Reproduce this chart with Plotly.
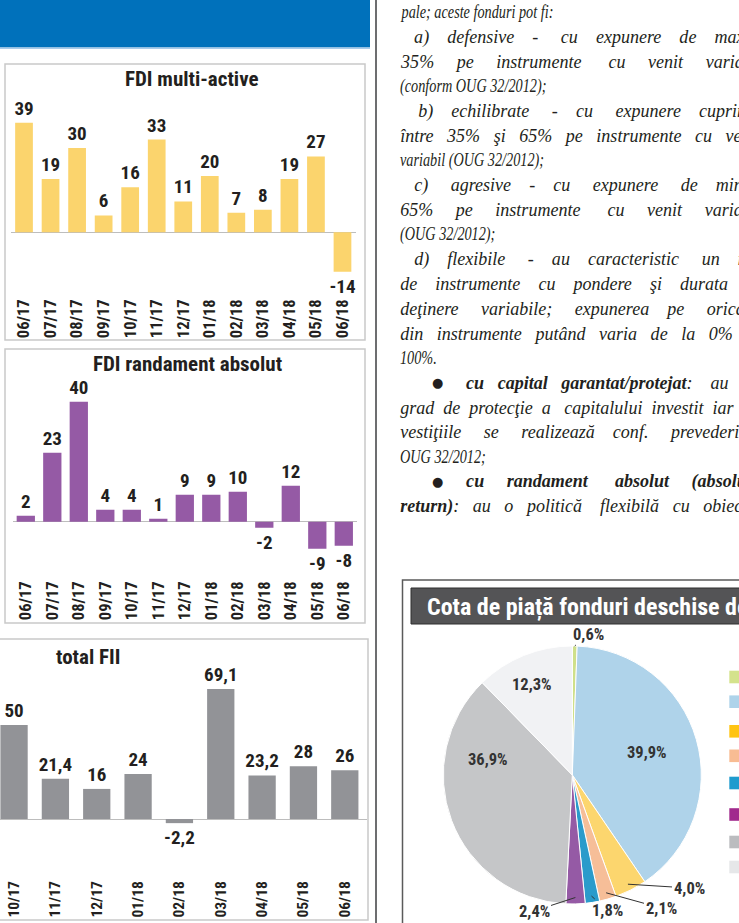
import json
import math
import re
import plotly.graph_objects as go

W, H = 739, 923


def X(px):
    return px / W


def Y(py):
    return 1 - py / H


# ---------------- data ----------------
months_fdi = ["06/17", "07/17", "08/17", "09/17", "10/17", "11/17", "12/17",
              "01/18", "02/18", "03/18", "04/18", "05/18", "06/18"]
multi_active = [39, 19, 30, 6, 16, 33, 11, 20, 7, 8, 19, 27, -14]
randament_absolut = [2, 23, 40, 4, 4, 1, 9, 9, 10, -2, 12, -9, -8]

months_fii = ["10/17", "11/17", "12/17", "01/18", "02/18", "03/18", "04/18", "05/18", "06/18"]
total_fii = [50, 21.4, 16, 24, -2.2, 69.1, 23.2, 28, 26]

pie_labels = ["FDI cu capital protejat", "FDI de obligațiuni", "FDI multi-active",
              "FDI diversificate", "FDI de acțiuni", "FDI randament absolut",
              "FDI monetare", "Alte fonduri"]
pie_values = [0.6, 39.9, 4.0, 2.1, 1.8, 2.4, 36.9, 12.3]
pie_colors = ["#CFE08A", "#AFD3EA", "#FCD66E", "#F6BE98", "#2A9BCB", "#955AA5", "#C5C6C8", "#F1F2F4"]
legend_colors = ["#D4E28C", "#AED3EA", "#FFC413", "#F8BC93", "#1F9BCE", "#A12A8D", "#BBBCBF", "#E6E7E9"]

titles = ["FDI multi-active", "FDI randament absolut", "total FII"]
pie_title = "Cota de piață fonduri deschise de investiții"

text_lines = [
    "pale; aceste fonduri pot fi:",
    "a) defensive - cu expunere de maxim",
    "35% pe instrumente cu venit variabil",
    "(conform OUG 32/2012);",
    "b) echilibrate - cu expunere cuprinsă",
    "între 35% şi 65% pe instrumente cu venit",
    "variabil (OUG 32/2012);",
    "c) agresive - cu expunere de minim",
    "65% pe instrumente cu venit variabil",
    "(OUG 32/2012);",
    "d) flexibile - au caracteristic un mix",
    "de instrumente cu pondere şi durata de",
    "deţinere variabile; expunerea pe oricare",
    "din instrumente putând varia de la 0% la",
    "100%.",
    "<b>cu capital garantat/protejat</b>: au un",
    "grad de protecţie a capitalului investit iar in-",
    "vestiţiile se realizează conf. prevederilor",
    "OUG 32/2012;",
    "<b>cu randament absolut (absolute</b>",
    "<b>return)</b>: au o politică flexibilă cu obiectiv",
]
justified = [1, 2, 4, 5, 7, 8, 10, 11, 12, 13, 15, 16, 17, 19, 20]
bullet_lines = [15, 19]

# ---------------- style ----------------
SANS = "Roboto Condensed, Open Sans Condensed, DejaVu Sans Condensed, sans-serif"
SERIF = "Liberation Serif, Times New Roman, serif"
INK = "#231F20"
YELLOW = "#FBD46D"
PURPLE = "#955AA5"
GREY = "#929397"
SERIF_SIZE = 19
SQUEEZE_SHORT = 0.75   # paragraph-final lines are set tight
SQUEEZE_JUST = 0.95    # justified lines keep wider glyphs


def fmt(v):
    return f"{v:g}".replace(".", ",")


def fmt_pct(v):
    return f"{v:.1f}".replace(".", ",") + "%"


# approximate Times italic advance widths (1/1000 em) used to justify lines
IT = dict(zip("abcdefghijklmnopqrstuvwxyz",
              [500, 500, 444, 500, 444, 278, 500, 500, 278, 278, 444, 278, 722, 500, 500, 500, 500,
               389, 389, 278, 500, 444, 667, 444, 444, 389]))
BI = dict(zip("abcdefghijklmnopqrstuvwxyz",
              [500, 500, 444, 500, 444, 333, 500, 556, 278, 278, 500, 278, 778, 556, 500, 500, 500,
               389, 389, 278, 556, 444, 667, 500, 444, 389]))
OTHER = {" ": 250, "%": 833, "(": 333, ")": 333, ",": 250, "-": 333, ".": 250, "/": 278,
         ":": 333, ";": 333, "O": 722, "U": 722, "G": 722}
BASE = {"ă": "a", "â": "a", "î": "i", "ş": "s", "ș": "s", "ţ": "t", "ț": "t"}


def text_width(markup, size):
    total = 0
    for m in re.finditer(r"<b>(.*?)</b>|([^<]+)", markup):
        bold = m.group(1) is not None
        seg = m.group(1) if bold else m.group(2)
        table = BI if bold else IT
        for ch in seg:
            ch = BASE.get(ch, ch)
            if ch.isdigit():
                total += 500
            elif ch in table:
                total += table[ch]
            else:
                total += OTHER.get(ch, 500)
    return total * size / 1000


def justify(markup, width, size):
    natural = text_width(markup, size)
    gaps = markup.count(" ")
    if gaps == 0 or natural >= width:
        return markup
    n_extra = int(round((width - natural) / (0.25 * size)))
    parts = markup.split(" ")
    out = parts[0]
    given = 0
    for k in range(1, len(parts)):
        target = int(round(n_extra * k / gaps))
        out += " " + "\u00a0" * (target - given) + parts[k]
        given = target
    return out


label_font = dict(family=SANS, size=19, color=INK, weight="bold")

fig = go.Figure()

fig.add_trace(go.Bar(x=months_fdi, y=multi_active, width=0.668,
                     marker=dict(color=YELLOW, line=dict(width=0)),
                     text=[fmt(v) for v in multi_active], textposition="outside",
                     textfont=label_font, cliponaxis=False, constraintext="none",
                     xaxis="x", yaxis="y", showlegend=False))
fig.add_trace(go.Bar(x=months_fdi, y=randament_absolut, width=0.69,
                     marker=dict(color=PURPLE, line=dict(width=0)),
                     text=[fmt(v) for v in randament_absolut], textposition="outside",
                     textfont=label_font, cliponaxis=False, constraintext="none",
                     xaxis="x2", yaxis="y2", showlegend=False))
fig.add_trace(go.Bar(x=months_fii, y=total_fii, width=0.66,
                     marker=dict(color=GREY, line=dict(width=0)),
                     text=[fmt(v) for v in total_fii], textposition="outside",
                     textfont=label_font, cliponaxis=False, constraintext="none",
                     xaxis="x3", yaxis="y3", showlegend=False))

# pie
pcx, pcy, pr = 572.3, 775.0, 129.0
fig.add_trace(go.Pie(labels=pie_labels, values=pie_values, sort=False,
                     direction="clockwise", rotation=0, textinfo="none",
                     marker=dict(colors=pie_colors, line=dict(color="white", width=1)),
                     domain=dict(x=[X(pcx - pr), X(pcx + pr)], y=[Y(pcy + pr), Y(pcy - pr)]),
                     showlegend=False, hoverinfo="label+percent"))


def xax(domain, rng, size):
    return dict(domain=domain, type="category", range=rng, tickangle=-90,
                tickfont=dict(family=SANS, size=size, color=INK, weight="bold"),
                showgrid=False, showline=False, zeroline=False, ticks="", fixedrange=True)


def yax(domain, rng):
    return dict(domain=domain, range=rng, showgrid=False, showticklabels=False,
                zeroline=True, zerolinecolor="#BDBDBD", zerolinewidth=1, ticks="",
                showline=False, fixedrange=True)


layout = dict(
    width=W, height=H, margin=dict(l=0, r=0, t=0, b=0),
    paper_bgcolor="white", plot_bgcolor="rgba(0,0,0,0)",
    xaxis=dict(**xax([X(10.75), X(355.75)], [-0.5, 12.5], 16.5), anchor="y"),
    yaxis=dict(**yax([Y(295), Y(95)], [-22.31, 48.86]), anchor="x"),
    xaxis2=dict(**xax([X(12.55), X(357.05)], [-0.5, 12.5], 16.5), anchor="y2"),
    yaxis2=dict(**yax([Y(577), Y(385)], [-18.43, 45.57]), anchor="x2"),
    xaxis3=dict(**xax([0, X(366.7)], [-0.34, 8.53], 15.5), anchor="y3"),
    yaxis3=dict(**yax([Y(877), Y(670)], [-30.85, 79.26]), anchor="x3"),
)
fig.update_layout(**layout)

shapes = []


def rect(x0, y0, x1, y1, line=None, fill=None, width=1.5):
    shapes.append(dict(type="rect", xref="paper", yref="paper",
                       x0=X(x0), x1=X(x1), y0=Y(y1), y1=Y(y0),
                       line=dict(color=line or "rgba(0,0,0,0)", width=width if line else 0),
                       fillcolor=fill or "rgba(0,0,0,0)", layer="below"))


# header and panels
rect(0, 0, 370, 47.5, fill="#0071BB")
rect(0, 47.5, 370, 49, fill="#A9CBEA")
rect(5, 64, 365, 340, line="#C9C9C9")
rect(5, 349, 365, 623, line="#C9C9C9")
rect(-3, 639, 368, 920, line="#C9C9C9")
shapes.append(dict(type="line", xref="paper", yref="paper", x0=X(376), x1=X(376), y0=0, y1=1,
                   line=dict(color="#6D6E70", width=2)))
# pie panel
rect(402.5, 580, 760, 940, line="#5A5A5A", width=1.5)
rect(411, 588, 760, 624, line="#2E2E2E", fill="#545456", width=1)
# legend swatches
leg_y = [677, 701.7, 731.3, 755.8, 783, 814.5, 842, 867]
for c, yc in zip(legend_colors, leg_y):
    rect(729.3, yc - 6.3, 760, yc + 6.3, fill=c)

annotations = []
squeeze = {}


def ann(text, px, py, font, xanchor="center", yanchor="middle", **kw):
    annotations.append(dict(text=text, x=X(px), y=Y(py), xref="paper", yref="paper",
                            xanchor=xanchor, yanchor=yanchor, showarrow=False,
                            font=font, **kw))
    return len(annotations) - 1


title_font = dict(family=SANS, size=21, color=INK, weight="bold")
ann(titles[0], 192, 79, title_font)
ann(titles[1], 187, 364, title_font)
ann(titles[2], 88, 657, title_font)
ann(pie_title, 425, 607, dict(family=SANS, size=24, color="white", weight="bold"), xanchor="left")

# text column
COL_RIGHT = 760
x_starts = [398, 412, 398, 398, 416, 398, 398, 412, 398, 398, 412,
            398, 398, 398, 398, 464, 398, 398, 398, 464, 398]
serif_font = dict(family=SERIF, size=SERIF_SIZE, color=INK, style="italic")
for i, (t, xs) in enumerate(zip(text_lines, x_starts)):
    yy = 12 + i * 24.7
    if i in justified:
        s = SQUEEZE_JUST
        t = justify(t, COL_RIGHT - xs, SERIF_SIZE * s)
    else:
        s = SQUEEZE_SHORT
    idx = ann(t, xs, yy, serif_font, xanchor="left")
    squeeze[idx] = s
    if i in bullet_lines:
        ann("●", 437, yy, dict(family="DejaVu Sans", size=13, color=INK))

# pie labels
cum = 0
mids = []
for v in pie_values:
    mids.append((cum + v / 2) / 100 * 360)
    cum += v
pie_text_pos = [(588, 634), (647, 752), (689, 888), (661, 908), (607, 910), (534, 911), (488, 759), (532, 684)]
leader_r = [1.0, None, 0.95, 0.95, 0.95, 0.95, None, None]
pie_font = dict(family=SANS, size=16.5, color="#333333", weight="bold")
for v, th, (tx, ty), lr in zip(pie_values, mids, pie_text_pos, leader_r):
    if lr is None:
        ann(fmt_pct(v), tx, ty, pie_font)
    else:
        rad = math.radians(th)
        axp = pcx + pr * lr * math.sin(rad)
        ayp = pcy - pr * lr * math.cos(rad)
        annotations.append(dict(text=fmt_pct(v), x=X(axp), y=Y(ayp), xref="paper", yref="paper",
                                showarrow=True, arrowhead=0, arrowwidth=1, arrowcolor="#333333",
                                ax=tx - axp, ay=ty - ayp, standoff=0, font=pie_font))

fig.update_layout(shapes=shapes, annotations=annotations)

post = """
document.body.style.margin = '0px';
try {
  var SQ = __SQ__;
  var gd = document.getElementById('{plot_id}');
  gd.querySelectorAll('g.annotation').forEach(function (g) {
    var idx = g.getAttribute('data-index');
    if (!(idx in SQ)) return;
    var t = g.querySelector('text.annotation-text');
    if (!t) return;
    var x0 = t.getBBox().x;
    t.setAttribute('transform', 'translate(' + x0 + ',0) scale(' + SQ[idx] + ',1) translate(' + (-x0) + ',0)');
  });
} catch (e) {}
""".replace("__SQ__", json.dumps({str(k): v for k, v in squeeze.items()}))
fig.write_html("out.html", post_script=post, config={"displayModeBar": False})
